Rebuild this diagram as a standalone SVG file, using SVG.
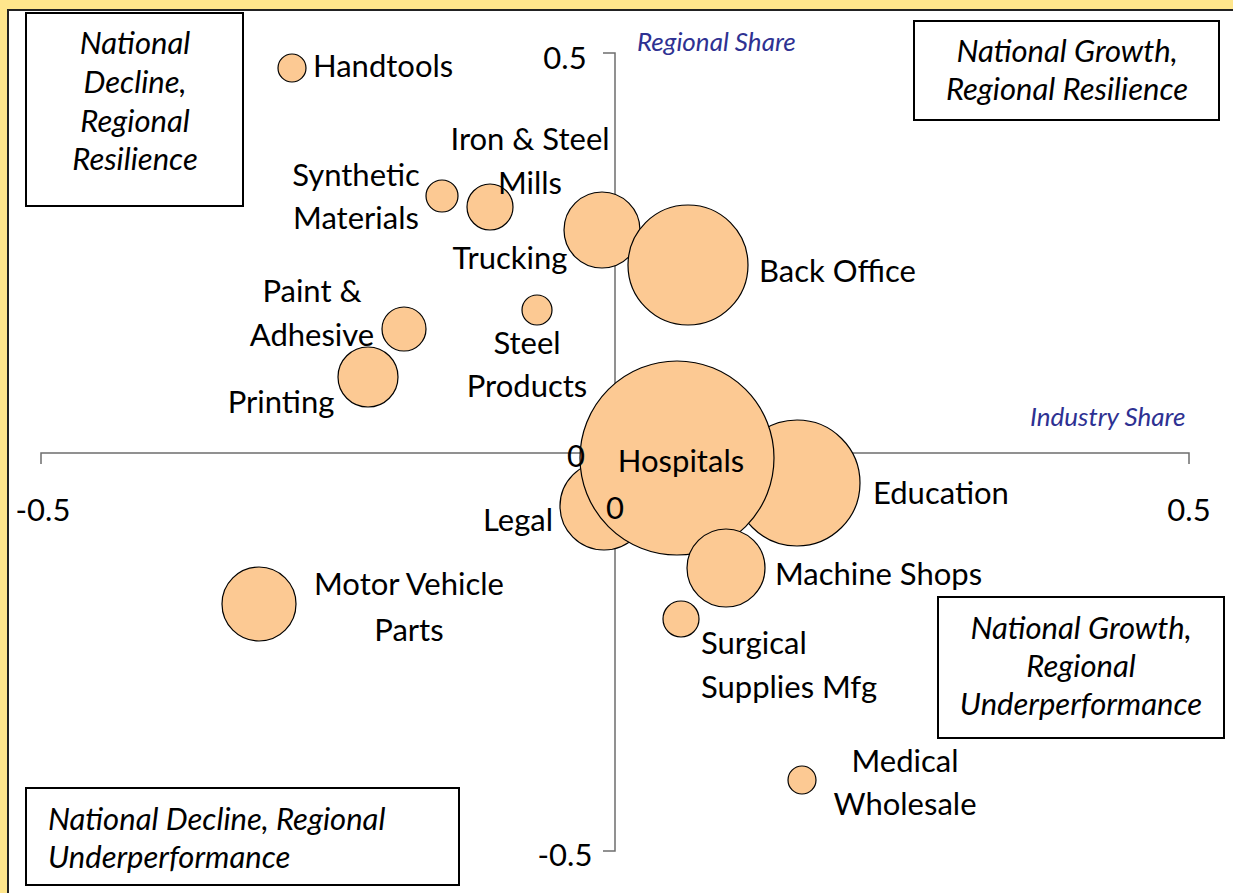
<svg xmlns="http://www.w3.org/2000/svg" width="1233" height="893" viewBox="0 0 1233 893">
<style>
.lbl{font-family:Lato,"Liberation Sans",sans-serif;font-size:31px;fill:#000}
.box{fill:#fff;stroke:#000;stroke-width:2}
.bt{font-family:Lato,"Liberation Sans",sans-serif;font-size:31px;font-style:italic;fill:#000}
.ax{font-family:Lato,"Liberation Sans",sans-serif;font-size:26px;font-style:italic;fill:#2E3192}
.tick{font-family:Lato,"Liberation Sans",sans-serif;font-size:31px;fill:#000}
.b{fill:#FCC993;stroke:#000;stroke-width:1.2}
.axis{stroke:#6e6e6e;stroke-width:1.5;fill:none}
</style>
<rect x="0" y="0" width="1233" height="893" fill="#FFE68C"/>
<rect x="8" y="10" width="1240" height="900" fill="#fff" stroke="#222" stroke-width="2"/>

<g id="quadrant-boxes">
<g id="q-nd-rr"><rect class="box" x="26" y="13" width="217" height="193"/>
<text class="bt" text-anchor="middle"><tspan x="135" y="54">National</tspan><tspan x="135" y="93">Decline,</tspan><tspan x="135" y="132">Regional</tspan><tspan x="135" y="170">Resilience</tspan></text></g>
<g id="q-ng-rr"><rect class="box" x="914" y="21" width="305" height="99"/>
<text class="bt" text-anchor="middle"><tspan x="1067" y="62">National Growth,</tspan><tspan x="1067" y="100">Regional Resilience</tspan></text></g>
<g id="q-ng-ru"><rect class="box" x="938" y="597" width="286" height="141"/>
<text class="bt" text-anchor="middle"><tspan x="1081" y="639">National Growth,</tspan><tspan x="1081" y="677">Regional</tspan><tspan x="1081" y="715">Underperformance</tspan></text></g>
<g id="q-nd-ru"><rect class="box" x="26" y="788" width="433" height="97"/>
<text class="bt"><tspan x="48" y="830">National Decline, Regional</tspan><tspan x="48" y="868">Underperformance</tspan></text></g>
</g>

<g id="connectors">
<path class="axis" d="M41,464 V453 H1189 V464"/>
<path class="axis" d="M603,53 H615 V851 H603"/>
</g>

<g id="axis-labels">
<text class="tick" text-anchor="middle" x="565" y="69">0.5</text>
<text class="tick" text-anchor="middle" x="565" y="866">-0.5</text>
<text class="tick" text-anchor="middle" x="43" y="521">-0.5</text>
<text class="tick" text-anchor="middle" x="1189" y="521">0.5</text>
<text class="ax" x="637" y="51">Regional Share</text>
<text class="ax" x="1030" y="426">Industry Share</text>
</g>

<g id="handtools"><circle class="b" cx="292" cy="68" r="14"/><text class="lbl" x="313" y="77">Handtools</text></g>
<g id="synthetic-materials"><circle class="b" cx="442" cy="196" r="16"/><text class="lbl" text-anchor="middle"><tspan x="356" y="186">Synthetic</tspan><tspan x="356" y="229">Materials</tspan></text></g>
<g id="iron-steel-mills"><circle class="b" cx="490" cy="207" r="23"/><text class="lbl" text-anchor="middle"><tspan x="530" y="150">Iron &amp; Steel</tspan><tspan x="530" y="194">Mills</tspan></text></g>
<g id="trucking"><circle class="b" cx="602" cy="230" r="38"/><text class="lbl" text-anchor="middle" x="510" y="269">Trucking</text></g>
<g id="back-office"><circle class="b" cx="688" cy="265" r="60"/><text class="lbl" x="759" y="282">Back Office</text></g>
<g id="paint-adhesive"><circle class="b" cx="404" cy="329" r="22"/><text class="lbl" text-anchor="middle"><tspan x="312" y="302">Paint &amp;</tspan><tspan x="312" y="346">Adhesive</tspan></text></g>
<g id="steel-products"><circle class="b" cx="537" cy="310" r="15"/><text class="lbl" text-anchor="middle"><tspan x="527" y="354">Steel</tspan><tspan x="527" y="397">Products</tspan></text></g>
<g id="printing"><circle class="b" cx="368" cy="377" r="30"/><text class="lbl" text-anchor="middle" x="281" y="413">Printing</text></g>
<g id="motor-vehicle-parts"><circle class="b" cx="259" cy="604" r="37"/><text class="lbl" text-anchor="middle"><tspan x="409" y="595">Motor Vehicle</tspan><tspan x="409" y="641">Parts</tspan></text></g>
<g id="legal"><circle class="b" cx="604" cy="506" r="44"/><text class="lbl" text-anchor="middle" x="518" y="531">Legal</text></g>
<g id="education"><circle class="b" cx="797" cy="483" r="63"/><text class="lbl" x="873" y="504">Education</text></g>
<g id="hospitals"><circle class="b" cx="677" cy="458" r="97"/></g>
<g id="machine-shops"><circle class="b" cx="726" cy="568" r="39"/><text class="lbl" x="775" y="585">Machine Shops</text></g>
<g id="surgical-supplies"><circle class="b" cx="681" cy="619" r="18"/><text class="lbl"><tspan x="701" y="654">Surgical</tspan><tspan x="701" y="698">Supplies Mfg</tspan></text></g>
<g id="medical-wholesale"><circle class="b" cx="802" cy="780" r="14"/><text class="lbl" text-anchor="middle"><tspan x="905" y="772">Medical</tspan><tspan x="905" y="815">Wholesale</tspan></text></g>

<g id="origin-labels">
<text class="tick" text-anchor="middle" x="576" y="467">0</text>
<text class="tick" text-anchor="middle" x="615" y="519">0</text>
<text class="lbl" text-anchor="middle" x="681" y="472">Hospitals</text>
</g>
</svg>
